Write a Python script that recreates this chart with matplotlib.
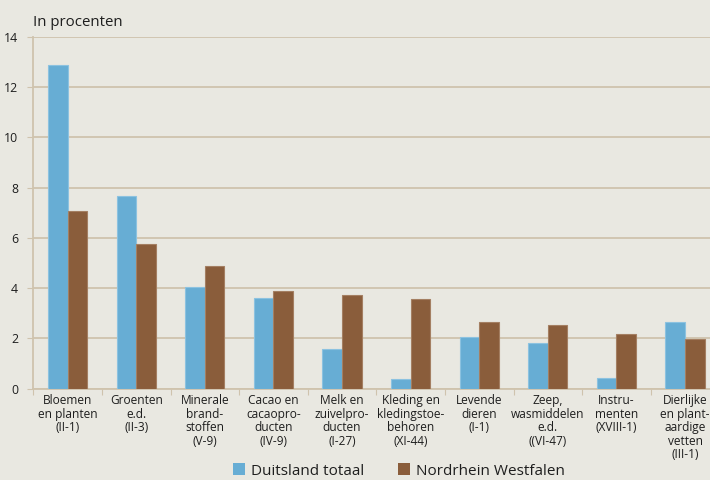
import matplotlib
matplotlib.use("Agg")
import matplotlib.pyplot as plt
from matplotlib.patches import Patch
import numpy as np

categories = [
    "Bloemen\nen planten\n(II-1)",
    "Groenten\ne.d.\n(II-3)",
    "Minerale\nbrand-\nstoffen\n(V-9)",
    "Cacao en\ncacaopro-\nducten\n(IV-9)",
    "Melk en\nzuivelpro-\nducten\n(I-27)",
    "Kleding en\nkledingstoe-\nbehoren\n(XI-44)",
    "Levende\ndieren\n(I-1)",
    "Zeep,\nwasmiddelen\ne.d.\n((VI-47)",
    "Instru-\nmenten\n(XVIII-1)",
    "Dierlijke\nen plant-\naardige\nvetten\n(III-1)",
]
duitsland = [12.87, 7.68, 4.05, 3.60, 1.57, 0.39, 2.07, 1.82, 0.41, 2.65]
nrw = [7.07, 5.74, 4.88, 3.88, 3.72, 3.56, 2.65, 2.53, 2.16, 1.99]
series_names = ["Duitsland totaal", "Nordrhein Westfalen"]
yticks = [0, 2, 4, 6, 8, 10, 12, 14]
ylabel = "In procenten"

bg = "#E9E8E1"
grid_c = "#CFC3AD"
blue = "#67ADD4"
brown = "#8A5D3B"
txt = "#1E1E1E"

plt.rcParams['font.family'] = ['Open Sans', 'DejaVu Sans']

fig = plt.figure(figsize=(7.10, 4.80), dpi=100, facecolor=bg)
ax = fig.add_axes([33.3 / 710, 91.3 / 480, 686 / 710, 352 / 480])
ax.set_facecolor(bg)

x = np.arange(len(categories))
w = 0.285
ax.bar(x - w / 2, duitsland, w, color=blue, edgecolor="#8CC2E0", linewidth=0.8, zorder=3)
ax.bar(x + w / 2, nrw, w, color=brown, edgecolor="#A47F62", linewidth=0.8, zorder=3)

ax.set_xlim(-0.5, len(categories) - 0.5)
ax.set_ylim(0, 14)
ax.set_yticks(yticks)
ax.set_yticklabels([str(v) for v in yticks], fontsize=8.8, color=txt)
ax.yaxis.grid(True, color=grid_c, linewidth=1.3, zorder=0)
ax.set_axisbelow(True)

ax.set_xticks(np.arange(-0.5, len(categories), 1.0))
ax.set_xticklabels([])
ax.set_xticks(x, minor=True)
ax.set_xticklabels(categories, minor=True, fontsize=8.6, color=txt, linespacing=1.05)
ax.tick_params(axis='x', which='major', length=4, color=grid_c, direction='out')
ax.tick_params(axis='x', which='minor', length=0, pad=4)
ax.tick_params(axis='y', length=4, color=grid_c, pad=7)

for s in ['top', 'right']:
    ax.spines[s].set_visible(False)
for s in ['left', 'bottom']:
    ax.spines[s].set_color(grid_c)
    ax.spines[s].set_linewidth(1.3)

fig.text(33 / 710, 1 - 22 / 480, ylabel, fontsize=10.8, color=txt, ha='left', va='center')

handles = [Patch(facecolor=blue, edgecolor='none'), Patch(facecolor=brown, edgecolor='none')]
fig.legend(handles, series_names, loc='center', bbox_to_anchor=(399 / 710, 1 - 471 / 480),
           ncol=2, frameon=False, fontsize=11, handlelength=0.78, handleheight=0.78,
           handletextpad=0.4, columnspacing=2.2, labelcolor=txt, borderaxespad=0, borderpad=0)

fig.savefig("out.png", dpi=100, facecolor=bg)
